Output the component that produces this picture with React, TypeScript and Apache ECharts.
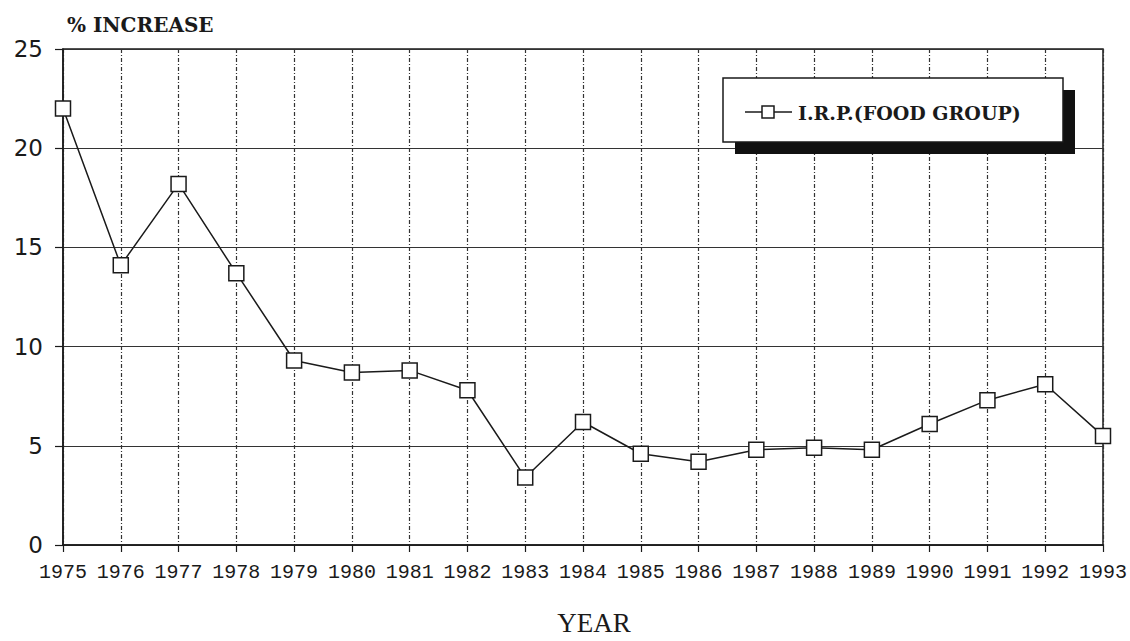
import React, { useEffect, useRef } from "react";
import * as echarts from "echarts";

const years = ["1975","1976","1977","1978","1979","1980","1981","1982","1983","1984","1985","1986","1987","1988","1989","1990","1991","1992","1993"];
const foodGroup = [22.0, 14.1, 18.2, 13.7, 9.3, 8.7, 8.8, 7.8, 3.4, 6.2, 4.6, 4.2, 4.8, 4.9, 4.8, 6.1, 7.3, 8.1, 5.5];
const seriesName = "I.R.P.(FOOD GROUP)";

export default function App() {
  const ref = useRef<HTMLDivElement>(null);
  useEffect(() => {
    if (!ref.current) return;
    const chart = echarts.init(ref.current, undefined, { renderer: "svg" });
    const ink = "#1a1a1a";
    chart.setOption({
      animation: false,
      backgroundColor: "#ffffff",
      grid: { left: 63, right: 27, top: 49, bottom: 81, show: true, borderColor: ink, borderWidth: 1.5 },
      xAxis: {
        type: "category",
        data: years,
        boundaryGap: false,
        axisLine: { show: true, lineStyle: { color: ink, width: 1.5 } },
        axisTick: { show: true, inside: false, length: 7, alignWithLabel: true, lineStyle: { color: ink, width: 1.2 } },
        axisLabel: { interval: 0, margin: 17, color: ink, fontFamily: "Liberation Mono", fontSize: 20 },
        splitLine: { show: true, lineStyle: { color: "#333", width: 1.2, type: [4, 2, 1, 2] } },
        name: "YEAR",
        nameLocation: "middle",
        nameGap: 64,
        nameTextStyle: { fontFamily: "Liberation Serif", fontSize: 27, color: ink, padding: [0, 0, 0, 22] },
      },
      yAxis: {
        type: "value",
        min: 0,
        max: 25,
        interval: 5,
        axisLine: { show: true, lineStyle: { color: ink, width: 1.5 } },
        axisTick: { show: true, inside: false, length: 8, lineStyle: { color: ink, width: 1.2 } },
        axisLabel: { color: ink, fontFamily: "DejaVu Sans", fontSize: 23, margin: 20 },
        splitLine: { show: true, lineStyle: { color: "#333", width: 1.2, type: "solid" } },
      },
      series: [
        {
          name: seriesName,
          type: "line",
          data: foodGroup,
          symbol: "rect",
          symbolSize: 15,
          itemStyle: { color: "#ffffff", borderColor: ink, borderWidth: 1.5 },
          lineStyle: { color: ink, width: 1.5 },
          z: 5,
        },
      ],
      graphic: [
        { type: "text", left: 67, top: 15, style: { text: "% INCREASE", fontFamily: "DejaVu Serif", fontSize: 20, fontWeight: "bold", fill: ink } },
        { type: "rect", shape: { x: 735, y: 90, width: 340, height: 64 }, style: { fill: "#111" }, z: 10 },
        { type: "rect", shape: { x: 723, y: 78, width: 340, height: 64 }, style: { fill: "#fff", stroke: ink, lineWidth: 1.5 }, z: 11 },
        { type: "line", shape: { x1: 745, y1: 112, x2: 792, y2: 112 }, style: { stroke: ink, lineWidth: 1.5 }, z: 12 },
        { type: "rect", shape: { x: 762, y: 106, width: 12, height: 12 }, style: { fill: "#fff", stroke: ink, lineWidth: 1.5 }, z: 13 },
        { type: "text", x: 798, y: 113, style: { text: seriesName, fontFamily: "DejaVu Serif", fontSize: 19, fontWeight: "bold", fill: ink, verticalAlign: "middle" }, z: 13 },
      ],
    });
    return () => chart.dispose();
  }, []);
  return <div ref={ref} style={{ width: 1130, height: 641, position: "absolute", left: 0, top: 0 }} />;
}
